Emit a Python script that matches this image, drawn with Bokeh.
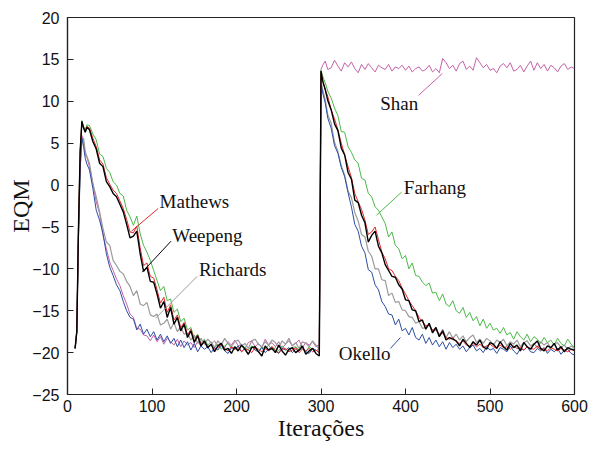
from bokeh.plotting import figure
from bokeh.models import Label, FixedTicker
from bokeh.embed import file_html
from bokeh.resources import INLINE

# ---------------- data ----------------
x_seg1 = [9, 11, 13, 15, 17, 19, 21, 23] + list(range(26, 299, 4))
x_seg2 = [300, 302, 305, 308] + list(range(312, 601, 4))

weepeng_1 = [-19.5, -17.5, -5.0, 4.0, 7.6, 6.8, 6.3, 6.9,
             6.6, 5.2, 4.3, 2.6, 2.2, 0.4, -0.2, -1.0, -1.4, -2.3, -3.2, -4.7, -6.3, -6.1, -5.5, -8.2,
             -10.3, -9.8, -11.5, -11.6, -13.0, -14.7, -13.9, -15.8, -14.6, -16.6, -15.8, -17.4, -16.6,
             -18.2, -17.4, -18.8, -18.0, -19.2,
             -18.6, -19.4, -19.0, -19.9, -19.2, -18.9, -19.7, -19.5, -20.1, -19.3, -19.8, -19.1,
             -19.6, -20.2, -19.4, -19.3, -19.9, -20.4, -19.2, -19.7, -19.5, -20.0, -19.1, -19.8,
             -20.3, -19.6, -19.4, -20.0, -19.7, -19.2, -20.2, -19.8, -19.5, -20.1, -20.4]
weepeng_2 = [13.6, 12.4, 11.4, 10.1,
             9.0, 7.3, 6.5, 4.4, 3.6, 1.5, 0.7, -1.8, -2.1, -3.6, -4.5, -6.8, -6.0, -5.5, -7.3, -8.1,
             -9.5, -10.2, -10.9, -11.0, -11.9, -12.4, -13.7, -13.8, -14.9, -15.0, -16.3, -16.1, -17.2,
             -16.5, -17.6, -17.0, -18.1, -17.4, -18.5, -18.2, -18.4,
             -18.6, -19.2, -18.4, -18.9, -19.4, -18.7, -19.1, -18.5, -19.3, -19.6, -18.8, -19.0,
             -19.5, -18.7, -19.3, -19.7, -18.9, -19.4, -19.1, -19.8, -18.8, -19.3, -19.6, -19.0,
             -18.6, -19.5, -19.8, -19.2, -19.4, -18.9, -19.7, -19.3, -19.9, -19.4, -19.6, -19.7]

mathews_1 = [-19.5, -17.5, -5.0, 4.0, 7.5, 6.9, 6.4, 7.0,
             6.8, 5.6, 4.6, 3.0, 2.5, 0.9, 0.1, -0.6, -1.0, -1.9, -2.8, -4.1, -5.6, -5.7, -4.9, -7.5,
             -9.6, -9.3, -10.9, -11.1, -12.5, -14.1, -13.4, -15.2, -14.3, -16.1, -15.5, -17.0, -16.4,
             -17.9, -17.2, -18.6, -17.9, -19.0,
             -18.8, -19.3, -19.1, -19.6, -19.4, -19.0, -19.5, -19.8, -19.3, -19.6, -19.4, -19.9,
             -19.5, -19.7, -20.0, -19.4, -19.6, -19.9, -19.5, -19.8, -19.3, -19.7, -20.0, -19.6,
             -19.5, -19.9, -19.7, -19.4, -20.0, -19.6, -19.8, -19.5, -19.9, -19.7, -20.0]
mathews_2 = [13.4, 12.5, 11.4, 10.6,
             9.0, 7.9, 6.6, 5.0, 3.6, 2.2, 0.9, -1.0, -2.0, -2.9, -4.2, -5.9, -5.6, -5.0, -6.5, -8.0,
             -8.8, -10.0, -10.2, -10.9, -11.4, -12.3, -13.0, -13.8, -14.4, -15.0, -15.8, -16.3, -16.8,
             -16.7, -17.3, -17.3, -17.8, -17.7, -18.2, -18.4, -18.2,
             -18.7, -18.9, -18.6, -19.1, -19.2, -18.9, -19.3, -19.0, -19.4, -19.2, -19.0, -19.3,
             -19.5, -19.1, -19.4, -19.3, -19.6, -19.2, -19.5, -19.4, -19.7, -19.3, -19.5, -19.6,
             -19.2, -19.7, -19.5, -19.8, -19.4, -19.6, -19.8, -19.5, -19.7, -19.9, -19.6, -19.8]

farhang_1 = [-19.5, -17.5, -5.0, 4.0, 7.7, 7.0, 6.6, 7.2,
             7.1, 6.1, 5.4, 3.7, 3.4, 2.0, 1.5, 0.4, 0.0, -1.0, -1.3, -3.0, -3.8, -4.8, -3.7, -5.8,
             -7.2, -8.0, -9.0, -10.2, -11.4, -12.6, -12.1, -13.8, -13.6, -15.2, -14.8, -16.3, -15.9,
             -17.3, -17.0, -18.3, -17.8, -18.8,
             -18.4, -19.1, -18.7, -19.4, -19.0, -19.6, -19.2, -18.9, -19.5, -19.3, -19.8, -19.1,
             -19.4, -19.7, -19.2, -19.5, -19.9, -19.3, -19.6, -19.1, -19.7, -19.4, -19.8, -19.2,
             -19.6, -19.9, -19.4, -19.3, -19.7, -19.5, -19.9, -19.3, -19.6, -19.8, -19.5]
farhang_2 = [13.7, 13.0, 12.2, 11.2,
             10.4, 9.2, 8.3, 6.4, 6.3, 4.6, 3.9, 3.0, 2.6, 0.8, 0.6, -1.0, -1.4, -2.6, -3.0, -3.8,
             -4.6, -6.2, -5.6, -7.2, -7.6, -8.8, -8.4, -10.0, -9.3, -10.8, -10.9, -11.6, -12.0,
             -11.7, -12.9, -12.8, -13.8, -13.0, -14.2, -14.5, -13.8, -15.0, -15.3, -14.6, -15.8,
             -15.2, -16.2, -15.7, -16.8, -16.0, -17.1, -16.5, -17.3, -17.1, -17.7, -17.0, -17.9,
             -17.6, -18.4, -17.5, -18.1, -18.5, -17.8, -18.7, -18.1, -18.4, -18.9, -18.2, -18.8,
             -18.5, -19.1, -18.3, -18.9, -19.2, -18.4, -19.0, -19.4]

richards_1 = [-19.5, -17.5, -6.0, 2.0, 5.4, 5.6, 4.0, 3.4,
              2.6, 0.2, -1.4, -3.2, -5.2, -6.8, -7.2, -9.0, -9.6, -10.3, -10.6, -11.5, -12.1, -13.2,
              -12.6, -14.2,
              -14.4, -14.0, -15.5, -15.7, -15.4, -16.7, -16.5, -16.0, -17.2, -16.4, -17.5, -16.9,
              -17.8, -17.7, -18.5, -17.9, -18.9, -18.3,
              -19.0, -18.4, -18.8, -19.4, -18.6, -19.1, -18.3, -18.9, -19.3, -18.7, -18.5, -19.2,
              -18.9, -19.5, -18.6, -18.4, -19.0, -19.3, -18.7, -19.1, -18.5, -18.8, -19.4, -18.6,
              -19.0, -18.3, -19.2, -18.8, -19.5, -18.7, -18.9, -19.3, -18.6, -19.1, -19.6]
richards_2 = [12.4, 11.4, 10.2, 8.4,
              7.4, 5.1, 4.0, 2.3, 1.2, -0.7, -1.5, -3.3, -4.3, -5.9, -6.2, -7.9, -8.5, -10.0, -10.0,
              -11.3, -11.4, -13.2, -12.9, -14.0, -13.9, -14.9, -15.0, -15.7, -15.8, -16.5, -16.3,
              -17.1, -17.0, -16.6, -17.7, -17.0, -18.0, -17.2, -18.2, -17.5, -18.3,
              -17.8, -18.5, -18.0, -18.7, -18.2, -17.9, -18.8, -18.4, -18.9, -18.3, -18.6, -19.1,
              -18.5, -18.8, -18.4, -19.2, -18.7, -19.0, -18.5, -19.3, -18.8, -18.6, -19.2, -18.9,
              -19.4, -18.7, -19.1, -18.8, -19.5, -19.0, -18.8, -19.4, -19.1, -19.6, -19.2, -19.5]

okello_1 = [-19.5, -17.5, -6.0, 2.0, 5.6, 4.6, 3.2, 2.5,
            1.8, -0.4, -3.0, -4.2, -5.8, -8.2, -9.8, -10.8, -11.9, -12.6, -13.9, -15.0, -15.8, -16.0,
            -17.3, -16.6,
            -17.8, -17.2, -18.1, -17.5, -18.5, -17.8, -18.7, -18.0, -18.9, -18.3, -19.3, -18.5, -19.4,
            -18.7, -19.7, -18.9, -19.9, -19.2,
            -19.6, -19.3, -20.0, -19.4, -19.7, -19.1, -19.8, -20.1, -19.4, -19.6, -19.2, -19.9,
            -19.5, -20.2, -19.3, -19.7, -19.9, -19.4, -20.0, -19.6, -19.3, -19.8, -20.1, -19.5,
            -19.7, -19.4, -20.0, -19.6, -19.8, -19.3, -19.9, -20.1, -19.5, -19.7, -20.0]
okello_2 = [12.0, 11.0, 9.8, 8.0,
            6.8, 4.7, 3.8, 2.1, 1.0, -0.9, -2.6, -4.7, -5.5, -7.3, -8.1, -10.1, -10.4, -11.9, -12.5,
            -13.9, -14.5, -15.4, -15.5, -16.7, -16.0, -17.4, -17.1, -17.9, -17.0, -18.2, -18.5,
            -17.8, -18.9, -18.2, -19.1, -18.5, -19.3, -18.7, -19.6, -18.8, -19.4,
            -19.0, -19.6, -19.2, -19.9, -19.4, -19.1, -19.8, -19.5, -20.0, -19.3, -19.7, -19.5,
            -20.1, -19.4, -19.6, -19.9, -19.2, -19.8, -20.2, -19.5, -19.7, -19.3, -19.9, -20.0,
            -19.5, -19.8, -19.4, -20.1, -19.6, -19.9, -19.5, -20.2, -19.7, -19.6, -20.1, -20.3]

shan_1 = [-19.5, -17.5, -6.0, 2.5, 5.9, 5.2, 3.6, 3.3,
          2.2, 0.2, -2.0, -3.4, -6.0, -7.6, -9.2, -10.2, -11.2, -12.0, -13.2, -14.2, -15.4, -15.8,
          -17.1, -17.2,
          -17.9, -18.0, -18.6, -17.9, -18.7, -18.1, -19.0, -18.3, -18.7, -19.1, -18.4, -19.3, -18.6,
          -19.1, -18.8, -19.4, -18.7, -19.2,
          -18.8, -19.5, -19.0, -18.6, -19.3, -18.9, -19.4, -18.7, -19.1, -18.5, -19.2, -19.0,
          -19.5, -18.8, -18.6, -19.3, -18.9, -19.4, -18.4, -19.1, -18.8, -19.3, -18.7, -19.5,
          -19.0, -18.6, -19.2, -18.9, -18.5, -19.4, -18.8, -19.1, -18.7, -19.3, -19.0]
shan_2 = [13.8, 14.3, 14.8, 13.8,
          14.0, 14.9, 14.2, 13.6, 14.6, 14.1, 14.7, 13.9, 13.4, 14.4, 13.8, 14.5, 14.0, 13.5, 14.3,
          14.0, 13.8, 14.4, 13.6, 14.1, 13.9, 14.3, 13.7, 14.2, 13.5, 13.9, 14.1, 13.6, 13.8, 14.3,
          13.5, 13.9, 13.4, 15.1, 14.6, 13.9, 14.3, 13.6, 14.5, 14.8, 13.8, 14.2, 13.7, 15.2, 14.6,
          14.0, 14.4, 13.7, 13.9, 13.4, 14.2, 14.5, 14.0, 14.6, 13.6, 13.8, 14.3, 13.5, 14.2, 14.8,
          13.7, 14.6, 13.9, 14.4, 13.6, 14.3, 14.0, 13.5, 14.2, 14.5, 13.8, 14.1, 13.9]

x_all = x_seg1 + x_seg2
series = [
    ("Shan", shan_1 + shan_2, "#c461aa", 1.0),
    ("Farhang", farhang_1 + farhang_2, "#4cb848", 1.0),
    ("Richards", richards_1 + richards_2, "#9b9b9b", 1.2),
    ("Okello", okello_1 + okello_2, "#2b4ea1", 1.0),
    ("Mathews", mathews_1 + mathews_2, "#e8262b", 1.0),
    ("Weepeng", weepeng_1 + weepeng_2, "#000000", 1.4),
]

x_ticks = [0, 100, 200, 300, 400, 500, 600]
y_ticks = [-25, -20, -15, -10, -5, 0, 5, 10, 15, 20]

# annotation texts: (name, text x, text y, leader start, leader end)
annotations = [
    ("Mathews", 109, -2.0, (107.3, -2.8), (75.7, -5.5)),
    ("Weepeng", 124, -6.0, (122.5, -6.7), (88.4, -10.4)),
    ("Richards", 155.5, -10.1, (153.5, -10.9), (104.2, -15.9)),
    ("Shan", 370, 9.7, (415.4, 10.7), (443.4, 13.3)),
    ("Farhang", 398, -0.25, (395.3, -0.85), (365.7, -3.6)),
    ("Okello", 321, -20.1, (382.2, -19.5), (394.0, -18.2)),
]

# ---------------- figure ----------------
p = figure(width=596, height=449, x_range=(0, 600), y_range=(-25, 20),
           output_backend="svg", toolbar_location=None,
           min_border_left=67, min_border_top=17, min_border_right=22, min_border_bottom=55)
p.background_fill_color = "white"
p.border_fill_color = "white"
p.xgrid.visible = False
p.ygrid.visible = False
p.outline_line_color = "#222222"
p.outline_line_width = 1.2
p.outline_line_alpha = 1.0

colors = {}
for name, ys, col, lw in series:
    colors[name] = col
    p.line(x_all, ys, line_color=col, line_width=lw)

for name, tx, ty, (x0, y0), (x1, y1) in annotations:
    p.line([x0, x1], [y0, y1], line_color=colors[name], line_width=1)
    p.add_layout(Label(x=tx, y=ty, text=name, text_font="Liberation Serif",
                       text_font_size="19px", text_baseline="middle", text_align="left",
                       text_color="#111111"))

for ax in (p.xaxis[0], p.yaxis[0]):
    ax.major_tick_in = 6
    ax.major_tick_out = 0
    ax.minor_tick_line_color = None
    ax.axis_line_color = "#222222"
    ax.axis_line_width = 1.2
    ax.major_tick_line_color = "#222222"
    ax.major_label_text_font = "Liberation Sans"
    ax.major_label_text_font_size = "16px"
    ax.major_label_text_color = "#111111"
    ax.axis_label_text_font = "Liberation Serif"
    ax.axis_label_text_font_size = "24px"
    ax.axis_label_text_font_style = "normal"
    ax.axis_label_text_color = "#111111"

p.xaxis.ticker = FixedTicker(ticks=x_ticks)
p.yaxis.ticker = FixedTicker(ticks=y_ticks)
p.xaxis.axis_label = "Iterações"
p.yaxis.axis_label = "EQM"
p.xaxis.major_label_standoff = 5
p.yaxis.major_label_standoff = 8
p.xaxis.axis_label_standoff = 0
p.yaxis.axis_label_standoff = -5

open("out.html", "w").write(file_html(p, INLINE))
